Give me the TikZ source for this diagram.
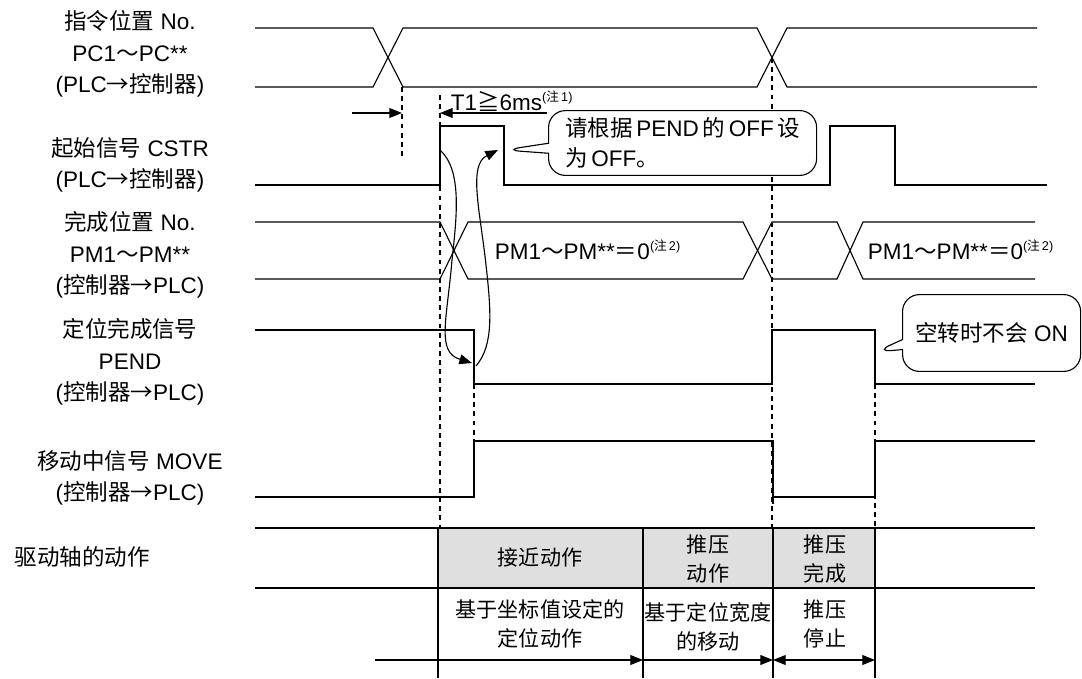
\documentclass[tikz,border=0pt]{standalone}
\usepackage{fontspec}
\setmainfont{Liberation Sans}
\newfontfamily\cjk{Noto Sans CJK SC}
\usetikzlibrary{arrows.meta,shapes.callouts}
\newcommand\zh[1]{{\cjk #1}}
\newcommand\zhnote[1]{\raisebox{0.8ex}{\fontsize{9}{9}\selectfont(\zh{注}\,#1)}}
\tikzset{
  wave/.style={line width=0.8pt},
  guide/.style={line width=0.8pt,dash pattern=on 3.5pt off 3pt},
  lbl/.style={align=center,font=\fontsize{16}{22.5}\selectfont},
  cell/.style={align=center,font=\fontsize{15}{20.5}\selectfont},
  bubble/.style={rectangle callout,draw,rounded corners=12pt,line width=0.8pt,
    fill=white,font=\fontsize{16}{21}\selectfont},
}
\begin{document}
\begin{tikzpicture}[x=0.025cm,y=-0.025cm,>={Triangle[length=9pt,width=7pt]}]
	  \useasboundingbox (0,0) rectangle (1082,678);
	  % signal names
	  \node[lbl] (pc) at (130,54) {\zh{指令位置} No.\\PC1\zh{～}PC**\\(PLC\zh{→控制器})};
	  \node[lbl] (cstr) at (130,165) {\zh{起始信号} CSTR\\(PLC\zh{→控制器})};
	  \node[lbl] (pm) at (130,255) {\zh{完成位置} No.\\PM1\zh{～}PM**\\(\zh{控制器→}PLC)};
	  \node[lbl] (pend) at (130,362) {\zh{定位完成信号}\\PEND\\(\zh{控制器→}PLC)};
	  \node[lbl] (move) at (130,478) {\zh{移动中信号} MOVE\\(\zh{控制器→}PLC)};
	  \node[lbl,anchor=west] (axis) at (10,557) {\zh{驱动轴的动作}};
	  % event points
	  \coordinate (cstrup) at (440,150);
	  \coordinate (cstrdn) at (504,150);
	  \coordinate (pendhit) at (472,363);
	  \coordinate (pendfall) at (476,366);
	  \coordinate (cstrhit) at (498,150);
	  \coordinate (pcx) at (402,113);
	  \coordinate (t1x) at (440,113);
	  \coordinate (idle) at (875,352);
	  % PC1~PC**
	  \draw[wave] (255,28) -- (373,28) -- (403,87) -- (757,87) -- (787,28) -- (1037,28);
	  \draw[wave] (255,87) -- (373,87) -- (403,28) -- (757,28) -- (787,87) -- (1037,87);
	  % CSTR
	  \draw[wave] (255,185) -- (440,185) -- (440,126) -- (504,126) -- (504,185)
	    -- (830,185) -- (830,126) -- (895,126) -- (895,185) -- (1047,185);
	  % PM1~PM**
	  \draw[wave] (255,222) -- (440,222) -- (468,279) -- (743,279) -- (772,222)
	    -- (837,222) -- (863,279) -- (1035,279);
	  \draw[wave] (255,279) -- (440,279) -- (468,222) -- (743,222) -- (772,279)
	    -- (837,279) -- (863,222) -- (1035,222);
	  \node[lbl,anchor=west] (pm0a) at (490,250) {PM1\zh{～}PM**\zh{＝}0\zhnote{2}};
	  \node[lbl,anchor=west] (pm0b) at (863,250) {PM1\zh{～}PM**\zh{＝}0\zhnote{2}};
	  % PEND
	  \draw[wave] (255,330) -- (474,330) -- (474,384) -- (772,384) -- (772,330)
	    -- (875,330) -- (875,384) -- (1035,384);
	  % MOVE
	  \draw[wave] (255,497) -- (474,497) -- (474,441) -- (773,441) -- (773,504);
	  \draw[wave] (773,497) -- (875,497) -- (875,441) -- (1035,441);
	  % timing guides
	  \draw[guide] (402,87) -- (402,157);
	  \draw[guide] (440,95) -- (440,528);
	  \draw[guide] (772,58) -- (772,528);
	  \draw[guide] (474,384) -- (474,441);
	  \draw[guide] (875,384) -- (875,528);
	  \draw[wave,->] (352,113) -- (pcx);
	  \draw[wave,->] (547,113) -- (t1x);
	  \node[lbl,anchor=west] (t1) at (446,101) {T1\zh{≧}6ms\zhnote{1}};
	  % handshake
	  \draw[wave,->] (cstrup) .. controls (462,170) and (457,215) .. (452,260)
	    .. controls (447,320) and (436,352) .. (pendhit);
	  \draw[wave,->] (pendfall) .. controls (494,345) and (491,310) .. (486,265)
	    .. controls (480,210) and (468,165) .. (cstrhit);
	  \node[bubble,anchor=west,minimum width=6.7cm,minimum height=1.62cm,
	    inner xsep=8pt,align=left,callout absolute pointer={(cstrdn)}] (offnote)
	    at (548,143) {\zh{请根据}\,PEND\,\zh{的}\,OFF\,\zh{设}\\\zh{为}\,OFF\zh{。}};
	  \node[bubble,anchor=west,minimum width=4.45cm,minimum height=1.92cm,
	    callout absolute pointer={(idle)}] (idlenote)
	    at (902,333) {\zh{空转时不会} ON};
	  % drive axis table
	  \fill[gray!25] (438,528) rectangle (875,588);
	  \draw[wave] (255,528) -- (1035,528);
	  \draw[wave] (255,588) -- (1035,588);
	  \foreach \c in {438,643,773,875}
	    \draw[wave] (\c,528) -- (\c,678);
	  \node[cell] (approach) at (540,557) {\zh{接近动作}};
	  \node[cell] (push) at (708,559) {\zh{推压}\\\zh{动作}};
	  \node[cell] (pushed) at (825,559) {\zh{推压}\\\zh{完成}};
	  \node[cell] (approachtx) at (540,624) {\zh{基于坐标值设定的}\\\zh{定位动作}};
	  \node[cell] (pushtx) at (708,627) {\zh{基于定位宽度}\\\zh{的移动}};
	  \node[cell] (pushedtx) at (825,624) {\zh{推压}\\\zh{停止}};
	  \coordinate (a0) at (375,660);
	  \coordinate (a1) at (643,660);
	  \coordinate (a2) at (773,660);
	  \coordinate (a3) at (875,660);
	  \draw[wave,->] (a0) -- (a1);
	  \draw[wave,->] (a1) -- (a2);
	  \draw[wave,<->] (a2) -- (a3);
	\end{tikzpicture}
\end{document}
